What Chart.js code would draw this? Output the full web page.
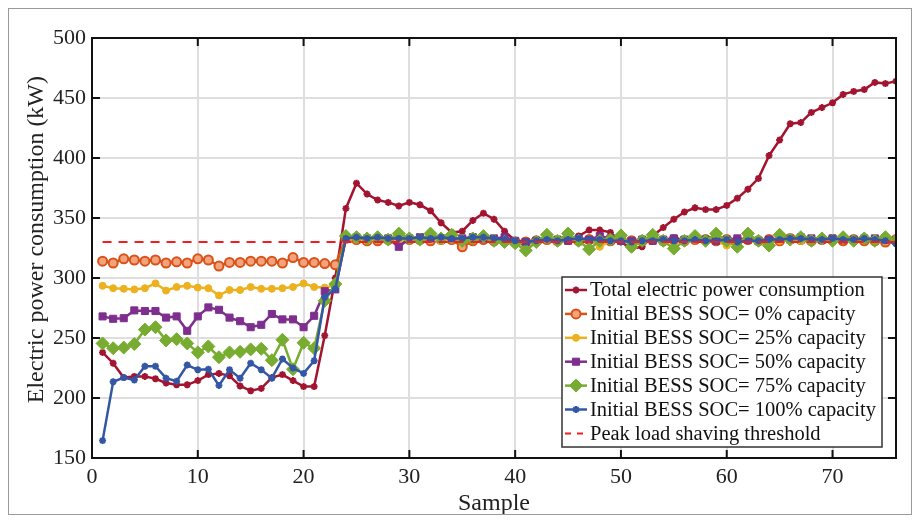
<!DOCTYPE html>
<html>
<head>
<meta charset="utf-8">
<script src="https://cdn.jsdelivr.net/npm/chart.js@4.4.1/dist/chart.umd.min.js"></script>
<style>
  html, body { margin: 0; padding: 0; background: #fff; }
  #wrap { position: relative; width: 915px; height: 523px; }
  canvas { display: block; }
</style>
</head>
<body>
<div id="wrap"><canvas id="c" width="915" height="523"></canvas></div>
<script>
const samples = [1,2,3,4,5,6,7,8,9,10,11,12,13,14,15,16,17,18,19,20,21,22,23,24,25,26,27,28,29,30,31,32,33,34,35,36,37,38,39,40,41,42,43,44,45,46,47,48,49,50,51,52,53,54,55,56,57,58,59,60,61,62,63,64,65,66,67,68,69,70,71,72,73,74,75,76];

const totalPower = [238,229,217,218,218,216,212.5,211,211,214.5,219.5,220.5,218.5,210,206,208,217,219.5,214.5,209.5,209.5,252,300,
  358,379,370,365,363,360,363,361,356,346,338,339,348,354,349,339,331,330,330,333,331,331,335,340,340,338,330,324.5,326,335,342,349,355,358.5,357,357,360.5,366.5,374,383,402,415,428.5,429.5,438,442,446,453,455.5,457,463,462,464];

const soc0 = [314,312.5,316,315,314,315,312.5,313.5,312.5,316,315,310,313,313,314,314,314,312.5,317,313,313,312,311,
  333,332,331,331,332,331,332,332,331,332,332,326,331,332,331,331,330,330,331,332,331,332,331,332,331,331,332,331,331,332,331,332,331,332,332,331,332,331,332,331,332,331,333,332,331,332,332,331,332,331,331,330,332];

const soc25 = [293.5,291.5,291,290.5,291.5,295.5,289.5,292.5,293.5,292,291.5,285.5,290,290,292.5,291,291,291.5,292.5,295.5,292.5,292,294,
  332,332,331,332,332,331,332,333,332,331,332,331,332,333,332,331,331,330,331,332,331,332,331,332,326,331,332,331,331,332,331,332,331,332,332,331,327,331,332,331,332,331,332,331,332,332,331,332,331,332,331,331,332];

const soc50 = [268,266,266.5,273,272.5,272.5,267,268,256,268,275.5,273.5,267,264,259,261,270,265.5,265.5,259,268.5,289,290.5,
  334,334,333,333,333,326,333,334,333,333,333,333,334,333,333,334,331,330,331,335,332,331,333,332,335,333,331,331,332,331,332,333,332,333,332,331,332,333,332,331,332,333,332,334,333,332,333,332,332,333,333,332,331];

const soc75 = [245.5,241.5,242,245,257,259,248,249,245.5,238,243,234,238,238.5,240.5,241,231.5,248.5,224,246,241.5,281,295,
  335,334,333,334,332,337,333,332,337,333,336,331,333,335,331,330,329,323,330,336,331,337,331,324,331,332,335.5,326,331,336,331,324.5,331,335,331,337,331,326,337,331,327,336,332,334,331,333,331,334,331,333,331,334,331];

const soc100 = [164.5,213.5,217,215,226.5,226.5,216.5,214,227.5,223.5,224,210.5,223.5,216.5,229,223.5,216.5,232.5,225,220.5,231,284,291,
  333,334,333,334,333,333,333,334,333,334,333,333,334,334,333,332,331,330,331,332,331,332,333,332,332,331,331,330,331,331,332,331,331,332,331,331,332,330,331,331,332,332,333,333,332,332,333,332,332,333,332,331,328.5];

const thresholdX = [1, 76];
const thresholdY = [330, 330];

const xTicks = [0,10,20,30,40,50,60,70];
const yTicks = [150,200,250,300,350,400,450,500];

const seriesNames = [
  'Total electric power consumption',
  'Initial BESS SOC= 0% capacity',
  'Initial BESS SOC= 25% capacity',
  'Initial BESS SOC= 50% capacity',
  'Initial BESS SOC= 75% capacity',
  'Initial BESS SOC= 100% capacity',
  'Peak load shaving threshold'
];

const FONT = '"Liberation Serif", "Times New Roman", serif';

function pts(xs, ys) { return ys.map((v, i) => ({ x: xs[i], y: v })); }

const styles = [
  { color: '#A2142F', bg: '#A2142F', style: 'star', r: 3.5, bw: 2 },
  { color: '#D95319', bg: '#F2A27C', style: 'circle', r: 4.5, bw: 2 },
  { color: '#EDB120', bg: '#EDB120', style: 'circle', r: 3.5, bw: 1 },
  { color: '#7E2F8E', bg: '#7E2F8E', style: 'rect', r: 5, bw: 1 },
  { color: '#77AC30', bg: '#77AC30', style: 'rectRot', r: 6.5, bw: 1 },
  { color: '#3356A5', bg: '#3356A5', style: 'star', r: 3.5, bw: 2 }
];
const seriesData = [totalPower, soc0, soc25, soc50, soc75, soc100];
const orders = [6, 5, 4, 3, 2, 1];

const datasets = seriesData.map((arr, i) => ({
  label: seriesNames[i],
  data: pts(samples, arr),
  borderColor: styles[i].color,
  backgroundColor: styles[i].bg,
  pointBorderColor: styles[i].color,
  pointBackgroundColor: styles[i].bg,
  pointStyle: styles[i].style,
  pointRadius: styles[i].r,
  pointBorderWidth: styles[i].bw,
  borderWidth: 2.5,
  tension: 0,
  order: orders[i]
}));
datasets.push({
  label: seriesNames[6],
  data: pts(thresholdX, thresholdY),
  borderColor: '#F01E1E',
  borderWidth: 2,
  borderDash: [9, 7],
  pointRadius: 0,
  order: 0
});

const framePlugin = {
  id: 'frame',
  afterDraw(chart) {
    const ctx = chart.ctx;
    const a = chart.chartArea;
    const xs = chart.scales.x, ys = chart.scales.y;
    ctx.save();
    ctx.strokeStyle = '#9a9a9a';
    ctx.lineWidth = 1;
    ctx.strokeRect(8.5, 8.5, 903, 506);
    ctx.strokeStyle = '#111';
    ctx.lineWidth = 2;
    ctx.strokeRect(a.left, a.top, a.right - a.left, a.bottom - a.top);
    const tl = 8;
    ctx.beginPath();
    xTicks.forEach(v => {
      const px = xs.getPixelForValue(v);
      ctx.moveTo(px, a.bottom); ctx.lineTo(px, a.bottom - tl);
      ctx.moveTo(px, a.top); ctx.lineTo(px, a.top + tl);
    });
    yTicks.forEach(v => {
      const py = ys.getPixelForValue(v);
      ctx.moveTo(a.left, py); ctx.lineTo(a.left + tl, py);
      ctx.moveTo(a.right, py); ctx.lineTo(a.right - tl, py);
    });
    ctx.stroke();

    const bx = 562, by = 277, bw = 320, bh = 170;
    ctx.fillStyle = '#fff';
    ctx.fillRect(bx, by, bw, bh);
    ctx.strokeStyle = '#333';
    ctx.lineWidth = 1.5;
    ctx.strokeRect(bx, by, bw, bh);
    ctx.font = '20.5px ' + FONT;
    ctx.textBaseline = 'middle';
    ctx.textAlign = 'left';
    for (let i = 0; i < seriesNames.length; i++) {
      const y = 290 + 23.9 * i;
      ctx.save();
      if (i < 6) {
        const s = styles[i];
        ctx.strokeStyle = s.color;
        ctx.lineWidth = 2.5;
        ctx.beginPath(); ctx.moveTo(565, y); ctx.lineTo(587, y); ctx.stroke();
        ctx.fillStyle = s.bg;
        ctx.strokeStyle = s.color;
        ctx.lineWidth = s.bw;
        Chart.helpers.drawPoint(ctx, { pointStyle: s.style, radius: s.r, rotation: 0, borderWidth: s.bw }, 576, y);
      } else {
        ctx.strokeStyle = '#F01E1E';
        ctx.lineWidth = 2;
        ctx.setLineDash([6, 6]);
        ctx.beginPath(); ctx.moveTo(565, y); ctx.lineTo(589, y); ctx.stroke();
      }
      ctx.restore();
      ctx.fillStyle = '#111';
      ctx.fillText(seriesNames[i], 590, y + 1);
    }
    ctx.restore();
  }
};

new Chart(document.getElementById('c'), {
  type: 'line',
  data: { datasets },
  plugins: [framePlugin],
  options: {
    responsive: false,
    animation: false,
    layout: { padding: { left: 0, top: 38, right: 19, bottom: 0 } },
    plugins: { legend: { display: false }, tooltip: { enabled: false } },
    scales: {
      x: {
        type: 'linear',
        min: 0, max: 76,
        ticks: { stepSize: 10, padding: 6, color: '#222', font: { family: FONT, size: 22 }, maxRotation: 0 },
        afterBuildTicks(scale) { scale.ticks = xTicks.map(v => ({ value: v })); },
        afterFit(scale) { scale.height = 65; },
        grid: { color: '#DEDEDE', lineWidth: 2, drawTicks: false },
        border: { display: false },
        title: { display: true, text: 'Sample', color: '#222', font: { family: FONT, size: 24 }, padding: { top: 0, bottom: 5 } }
      },
      y: {
        type: 'linear',
        min: 150, max: 500,
        ticks: { stepSize: 50, padding: 6, color: '#222', font: { family: FONT, size: 22 } },
        afterBuildTicks(scale) { scale.ticks = yTicks.map(v => ({ value: v })); },
        afterFit(scale) { scale.width = 92; },
        grid: { color: '#DEDEDE', lineWidth: 2, drawTicks: false },
        border: { display: false },
        title: { display: true, text: '\u2002\u2009Electric power consumption (kW)', color: '#222', font: { family: FONT, size: 24 }, padding: { top: 22, bottom: 0 } }
      }
    }
  }
});
</script>
</body>
</html>
